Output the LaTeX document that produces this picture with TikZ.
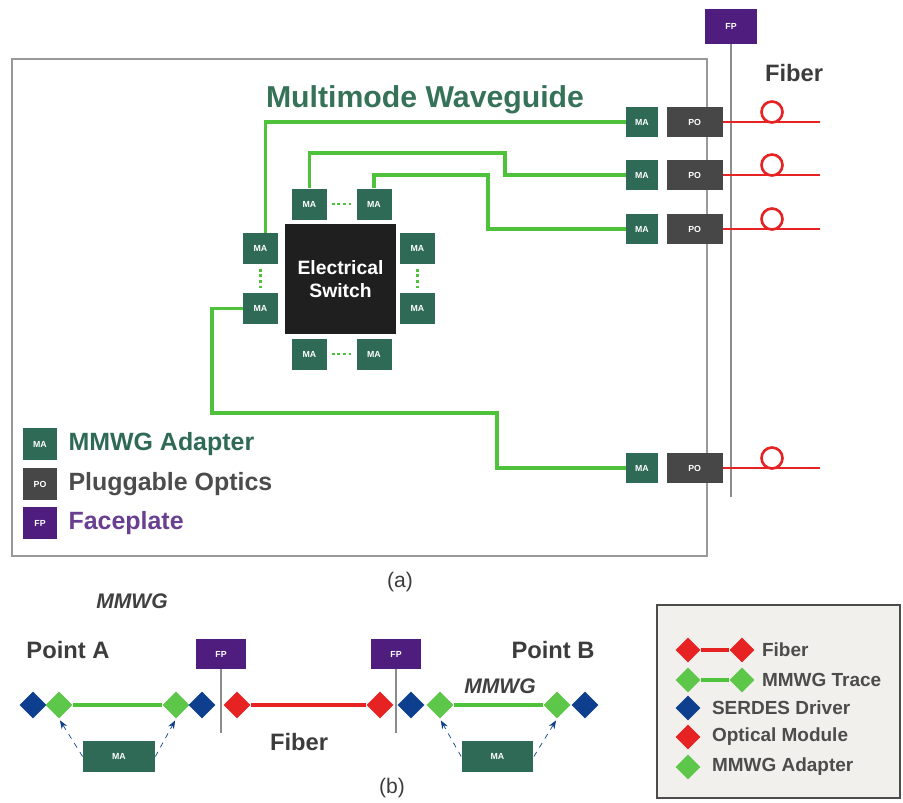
\documentclass[tikz,border=0pt]{standalone}
\usepackage{fontspec}
\setmainfont{Liberation Sans}
\usetikzlibrary{positioning,arrows.meta,shapes.geometric}
\definecolor{magreen}{HTML}{2E6A55}
\definecolor{podark}{HTML}{474747}
\definecolor{fppurple}{HTML}{4E1D7E}
\definecolor{tracegreen}{HTML}{4DC23A}
\definecolor{fiberred}{HTML}{E62222}
\definecolor{serdesblue}{HTML}{0E3F8F}
\definecolor{adaptgreen}{HTML}{5CC748}
\definecolor{wgtext}{HTML}{357258}
\definecolor{legendbg}{HTML}{F1F0EC}
\definecolor{labelgray}{HTML}{3C3C3C}

\begin{document}
\begin{tikzpicture}[x=0.02cm,y=-0.02cm,>=Stealth,node distance=0.16cm,font=\bfseries,
  ma/.style={fill=magreen,text=white,inner sep=0pt,minimum width=0.64cm,minimum height=0.6cm,font=\fontsize{5}{5}\selectfont\bfseries},
  sma/.style={ma,minimum width=0.7cm,minimum height=0.62cm},
  po/.style={fill=podark,text=white,inner sep=0pt,minimum width=1.12cm,minimum height=0.6cm,font=\fontsize{5}{5}\selectfont\bfseries},
  fp/.style={fill=fppurple,text=white,inner sep=0pt,minimum width=1.04cm,minimum height=0.7cm,font=\fontsize{5}{5}\selectfont\bfseries},
  plate/.style={draw=black!45,line width=1.3pt},
  trace/.style={draw=tracegreen,line width=1.8pt},
  dotline/.style={draw=tracegreen,line width=1.6pt,dash pattern=on 1.6pt off 1.6pt,shorten <=2.5pt,shorten >=2.5pt},
  fiber/.style={draw=fiberred,line width=1.5pt},
  bigtxt/.style={font=\fontsize{13.5}{14}\selectfont\bfseries},
  legtxt/.style={font=\fontsize{14.2}{15}\selectfont\bfseries},
  smalltxt/.style={font=\fontsize{10.8}{12}\selectfont\bfseries,text=black!70},
  italtxt/.style={font=\fontsize{12}{12}\selectfont\bfseries\itshape,text=black!75},
  serdes/.style={diamond,fill=serdesblue,inner sep=0pt,minimum size=0.54cm},
  adapter/.style={diamond,fill=adaptgreen,inner sep=0pt,minimum size=0.54cm},
  optmod/.style={diamond,fill=fiberred,inner sep=0pt,minimum size=0.54cm},
  maarrow/.style={->,draw=serdesblue,dashed,thin,shorten >=1pt}]
  \useasboundingbox (0,0) rectangle (903,802);
  % (a)
  \node[draw=black!40,line width=1.2pt,fill=white,inner sep=0pt,minimum width=13.9cm,minimum height=9.94cm] (board) at (359.5,307.5) {};
  \node[fp] (fptop) at (731,26.5) {FP};
  \coordinate (fpend) at (731,497);
  \draw[plate] (fptop) -- (fpend);
  \node[text=wgtext,font=\fontsize{17.2}{17}\selectfont\bfseries] (mwg) at (425,100) {Multimode Waveguide};
  \node[bigtxt,text=labelgray] (fibertxt) at (794,73) {Fiber};

  \node[ma] (ma1) at (642,122) {MA};
  \node[po,right=of ma1] (po1) {PO};
  \node[ma] (ma2) at (642,175) {MA};
  \node[po,right=of ma2] (po2) {PO};
  \node[ma] (ma3) at (642,229) {MA};
  \node[po,right=of ma3] (po3) {PO};
  \node[ma] (ma4) at (642,468) {MA};
  \node[po,right=of ma4] (po4) {PO};

  \node[fill=black!88,text=white,align=center,inner sep=0pt,minimum size=2.21cm,font=\fontsize{11}{13}\selectfont\bfseries] (sw) at (340.5,279) {Electrical\\Switch};
  \node[sma] (mt1) at (309.5,204) {MA};
  \node[sma] (mt2) at (374,204) {MA};
  \node[sma] (ml1) at (260.5,248.5) {MA};
  \node[sma] (ml2) at (260.5,308.5) {MA};
  \node[sma] (mr1) at (417.5,248.5) {MA};
  \node[sma] (mr2) at (417.5,308.5) {MA};
  \node[sma] (mb1) at (309.5,354) {MA};
  \node[sma] (mb2) at (374,354) {MA};
  \draw[dotline] (mt1) -- (mt2);
  \draw[dotline] (mb1) -- (mb2);
  \draw[dotline] (ml1) -- (ml2);
  \draw[dotline] (mr1) -- (mr2);

  \draw[trace] ([xshift=0.1cm]ml1.north) |- (ma1.west);
  \draw[trace] (mt1.north) |- (505,153) |- (ma2.west);
  \draw[trace] (mt2.north) |- (488,175) |- (ma3.west);
  \draw[trace] (ml2.west) -| (212,413) -- (497,413) |- (ma4.west);

  \coordinate (fe1) at (820,122);
  \coordinate (fe2) at (820,175);
  \coordinate (fe3) at (820,229);
  \coordinate (fe4) at (820,468);
  \draw[fiber] (po1.east) -- (fe1);
  \draw[fiber] (po2.east) -- (fe2);
  \draw[fiber] (po3.east) -- (fe3);
  \draw[fiber] (po4.east) -- (fe4);
  \draw[fiber] (772,112) circle[radius=10.5];
  \draw[fiber] (772,165) circle[radius=10.5];
  \draw[fiber] (772,219) circle[radius=10.5];
  \draw[fiber] (772,458) circle[radius=10.5];

  \node[ma,minimum width=0.68cm,minimum height=0.64cm] (lgma) at (40,444) {MA};
  \node[legtxt,text=magreen,right=0.1cm of lgma] (lgmatxt) {MMWG Adapter};
  \node[po,minimum width=0.68cm,minimum height=0.64cm] (lgpo) at (40,484) {PO};
  \node[legtxt,text=black!70,right=0.1cm of lgpo] (lgpotxt) {Pluggable Optics};
  \node[fp,minimum width=0.68cm,minimum height=0.64cm] (lgfp) at (40,523) {FP};
  \node[legtxt,text=fppurple!85,right=0.1cm of lgfp] (lgfptxt) {Faceplate};
  \node[font=\fontsize{12}{12}\selectfont,text=labelgray] (capa) at (400,582) {(a)};

  % (b)
  \node[italtxt] (mmwga) at (132,601) {MMWG};
  \node[bigtxt,text=labelgray] (pta) at (68,650) {Point A};
  \node[bigtxt,text=labelgray] (ptb) at (553,650) {Point B};
  \node[italtxt] (mmwgb) at (500,686) {MMWG};
  \node[fp,minimum width=1.02cm,minimum height=0.6cm] (fpb1) at (221,654) {FP};
  \node[fp,minimum width=1.02cm,minimum height=0.6cm] (fpb2) at (396,654) {FP};
  \coordinate (pl1) at (221,733);
  \coordinate (pl2) at (396,733);
  \draw[plate,line width=1pt] (fpb1) -- (pl1);
  \draw[plate,line width=1pt] (fpb2) -- (pl2);

  \node[serdes] (sa1) at (33,705) {};
  \node[adapter] (ga1) at (59,705) {};
  \node[adapter] (ga2) at (176,705) {};
  \node[serdes] (sa2) at (202,705) {};
  \node[optmod] (om1) at (237,705) {};
  \node[optmod] (om2) at (380,705) {};
  \node[serdes] (sb1) at (411,705) {};
  \node[adapter] (gb1) at (440,705) {};
  \node[adapter] (gb2) at (557,705) {};
  \node[serdes] (sb2) at (585,705) {};
  \draw[trace] (ga1) -- (ga2);
  \draw[fiber,line width=2pt] (om1) -- (om2);
  \draw[trace] (gb1) -- (gb2);

  \node[ma,minimum width=1.44cm,minimum height=0.62cm] (mab1) at (119,756.5) {MA};
  \node[ma,minimum width=1.44cm,minimum height=0.62cm] (mab2) at (497.5,756.5) {MA};
  \draw[maarrow] (mab1.west) -- (ga1.south);
  \draw[maarrow] (mab1.east) -- (ga2.south);
  \draw[maarrow] (mab2.west) -- (gb1.south);
  \draw[maarrow] (mab2.east) -- (gb2.south);
  \node[bigtxt,text=labelgray] (fiberb) at (299,742) {Fiber};
  \node[font=\fontsize{12}{12}\selectfont,text=labelgray] (capb) at (392,788) {(b)};

  \node[draw=black!70,line width=1.6pt,fill=legendbg,inner sep=0pt,minimum width=4.86cm,minimum height=3.86cm] (lgbox) at (778.5,701.5) {};
  \node[optmod,minimum size=0.5cm] (lf1) at (688,650) {};
  \node[optmod,minimum size=0.5cm] (lf2) at (742,650) {};
  \draw[fiber,line width=2pt] (lf1) -- (lf2);
  \node[smalltxt,right=0.02cm of lf2] (lftxt) {Fiber};
  \node[adapter,minimum size=0.5cm] (lg1) at (688,680) {};
  \node[adapter,minimum size=0.5cm] (lg2) at (742,680) {};
  \draw[trace] (lg1) -- (lg2);
  \node[smalltxt,right=0.02cm of lg2] (lgtxt) {MMWG Trace};
  \node[serdes,minimum size=0.5cm] (ls) at (688,708) {};
  \node[smalltxt,right=0.1cm of ls] (lstxt) {SERDES Driver};
  \node[optmod,minimum size=0.5cm] (lo) at (688,737) {};
  \node[smalltxt,right=0.1cm of lo] (lotxt) {Optical Module};
  \node[adapter,minimum size=0.5cm] (la) at (688,767) {};
  \node[smalltxt,right=0.1cm of la] (latxt) {MMWG Adapter};
\end{tikzpicture}
\end{document}
